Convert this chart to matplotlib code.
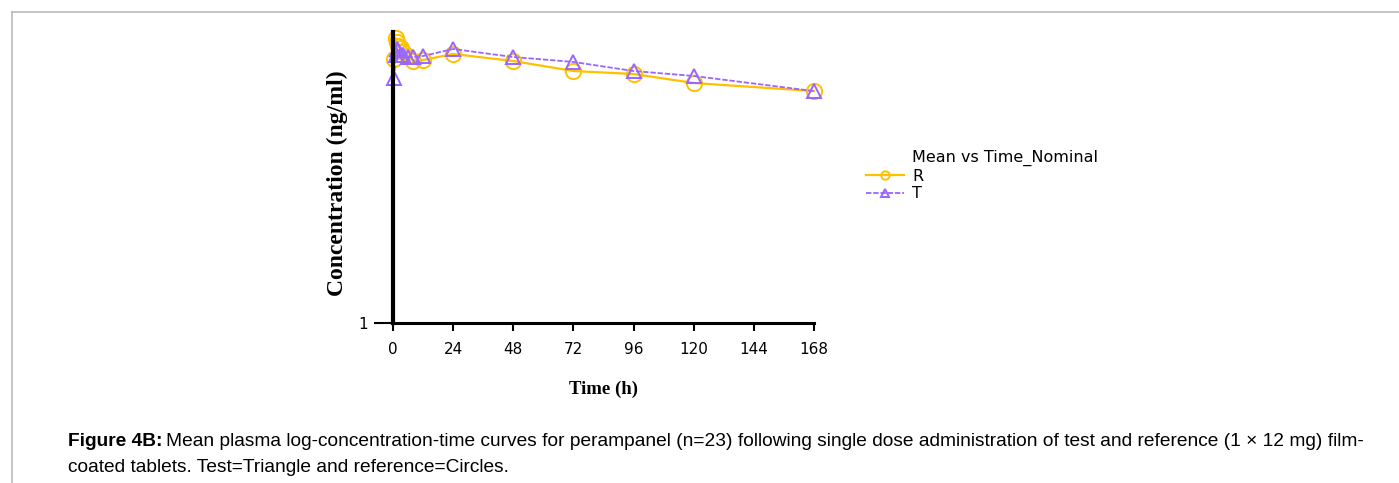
import numpy as np
import matplotlib.pyplot as plt
from matplotlib.ticker import FixedLocator, FixedFormatter, NullLocator
from matplotlib.lines import Line2D

# nominal sampling times (h) and mean concentrations (ng/ml)
time_h = [0.5, 1, 1.5, 2, 3, 4, 6, 8, 12, 24, 48, 72, 96, 120, 168]
conc_R = [527, 867, 789, 718, 684, 622, 566, 502, 514, 593, 502, 396, 369, 298, 246]
conc_T = [336, 579, 668, 652, 579, 579, 552, 552, 566, 668, 552, 491, 396, 352, 246]
x_ticks = [0, 24, 48, 72, 96, 120, 144, 168]

W, H = 1399, 483
fig = plt.figure(figsize=(W / 100, H / 100), dpi=100)
ax = fig.add_axes([393 / W, 1 - 323 / H, (814 - 393) / W, (323 - 32) / H])

lr, = ax.plot(time_h, conc_R, color='#FFC000', lw=1.6, marker='o', ms=11,
              mfc='none', mec='#FFC000', mew=1.4, clip_on=False)
lt, = ax.plot(time_h, conc_T, color='#9966FF', lw=1.3, ls='--', dashes=(3, 1), marker='^', ms=10,
              mfc='none', mec='#9966FF', mew=1.4, clip_on=False)

ax.set_yscale('log')
ax.set_ylim(1, 1000)
ax.set_xlim(0, 168)
ax.yaxis.set_major_locator(FixedLocator([1]))
ax.yaxis.set_major_formatter(FixedFormatter(['1']))
ax.yaxis.set_minor_locator(NullLocator())
ax.set_xticks(x_ticks)

for s in ['top', 'right']:
    ax.spines[s].set_visible(False)
ax.spines['left'].set_linewidth(3.0)
ax.spines['bottom'].set_linewidth(2.2)
ax.tick_params(axis='x', length=6, width=1.5, labelsize=11, pad=8)
ax.tick_params(axis='y', length=14, width=1.5, labelsize=11, pad=4)

ax.set_ylabel('Concentration (ng/ml)', family='Liberation Serif', weight='bold', fontsize=17)
ax.yaxis.set_label_coords(-0.108, 0.48)
ax.set_xlabel('Time (h)', family='Liberation Serif', weight='bold', fontsize=13.5,
              labelpad=17)

# legend: title aligned with the entry labels
fig.text(912 / W, 1 - 158 / H, 'Mean vs Time_Nominal', fontsize=11.5, va='center')
fig.legend(handles=[lr, lt], labels=['R', 'T'],
           loc='upper left', bbox_to_anchor=(866 / W, 1 - 169 / H),
           frameon=False, fontsize=11.5, handlelength=2.4,
           labelspacing=0.15, borderaxespad=0, borderpad=0, handletextpad=0.5, markerscale=0.55)

# caption
cap_x = 68 / W
cap_size = 13.8
bold = fig.text(cap_x, 1 - 441 / H, 'Figure 4B:', fontsize=cap_size, weight='bold',
                family='Liberation Sans', va='center')
fig.canvas.draw()
bb = bold.get_window_extent()
fig.text((bb.x1 + 4) / W, 1 - 441 / H,
         'Mean plasma log-concentration-time curves for perampanel (n=23) following single dose '
         'administration of test and reference (1 × 12 mg) film-',
         fontsize=cap_size, family='Liberation Sans', va='center')
fig.text(cap_x, 1 - 467 / H, 'coated tablets. Test=Triangle and reference=Circles.',
         fontsize=cap_size, family='Liberation Sans', va='center')

# page frame
fig.add_artist(Line2D([12 / W, 1], [1 - 12 / H, 1 - 12 / H], color='#BBBBBB', lw=1.2,
                      transform=fig.transFigure))
fig.add_artist(Line2D([12 / W, 12 / W], [0, 1 - 12 / H], color='#BBBBBB', lw=1.2,
                      transform=fig.transFigure))

fig.savefig('out.png', dpi=100)
